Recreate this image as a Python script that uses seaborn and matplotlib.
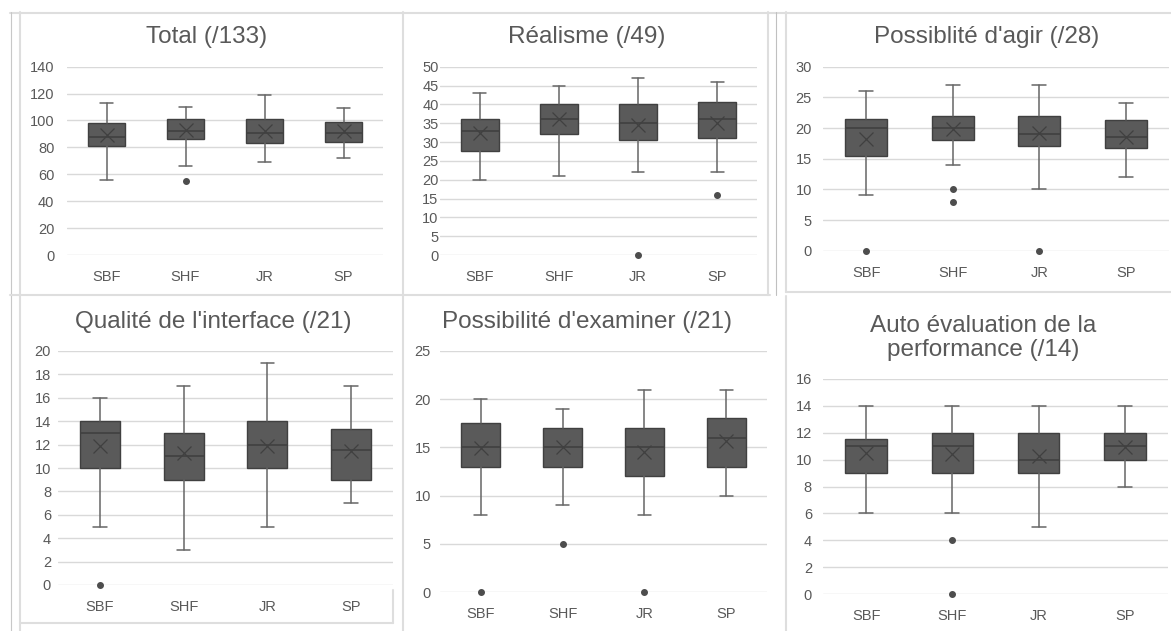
import numpy as np
import matplotlib
matplotlib.use("Agg")
import matplotlib.pyplot as plt
from matplotlib.lines import Line2D
import seaborn as sns

# groups shown on every panel
groups = ['SBF', 'SHF', 'JR', 'SP']

# box statistics, one list per panel (order: SBF, SHF, JR, SP)
total_lo = [56, 66, 69, 72]
total_q1 = [81, 86, 83, 84]
total_med = [88, 92, 91, 90.5]
total_q3 = [98, 101, 101, 99]
total_hi = [113, 110, 119, 109]
total_mean = [89.5, 93, 92, 92]
total_fliers = [[], [55], [], []]

real_lo = [20, 21, 22, 22]
real_q1 = [27.5, 32, 30.5, 31]
real_med = [33, 36, 35, 36]
real_q3 = [36, 40, 40, 40.5]
real_hi = [43, 45, 47, 46]
real_mean = [32.5, 36, 34.5, 35]
real_fliers = [[], [], [0], [16]]

agir_lo = [9, 14, 10, 12]
agir_q1 = [15.5, 18, 17, 16.75]
agir_med = [20, 20, 19, 18.5]
agir_q3 = [21.5, 22, 22, 21.3]
agir_hi = [26, 27, 27, 24]
agir_mean = [18.2, 19.8, 19.2, 18.6]
agir_fliers = [[0], [10, 8], [0], []]

interf_lo = [5, 3, 5, 7]
interf_q1 = [10, 9, 10, 9]
interf_med = [13, 11, 12, 11.5]
interf_q3 = [14, 13, 14, 13.3]
interf_hi = [16, 17, 19, 17]
interf_mean = [11.9, 11.3, 11.9, 11.45]
interf_fliers = [[0], [], [], []]

exam_lo = [8, 9, 8, 10]
exam_q1 = [13, 13, 12, 13]
exam_med = [15, 15, 15, 16]
exam_q3 = [17.5, 17, 17, 18]
exam_hi = [20, 19, 21, 21]
exam_mean = [14.9, 15, 14.55, 15.7]
exam_fliers = [[0], [5], [0], []]

auto_lo = [6, 6, 5, 8]
auto_q1 = [9, 9, 9, 10]
auto_med = [11, 11, 10, 11]
auto_q3 = [11.5, 12, 12, 12]
auto_hi = [14, 14, 14, 14]
auto_mean = [10.5, 10.45, 10.3, 10.95]
auto_fliers = [[], [4, 0], [], []]

titles = ['Total (/133)', 'Réalisme (/49)', "Possiblité d'agir (/28)",
          "Qualité de l'interface (/21)", "Possibilité d'examiner (/21)",
          'Auto évaluation de la\nperformance (/14)']
y_max = [140, 50, 30, 20, 25, 16]
y_step = [20, 5, 5, 2, 5, 2]

panels = [
    (total_lo, total_q1, total_med, total_q3, total_hi, total_mean, total_fliers),
    (real_lo, real_q1, real_med, real_q3, real_hi, real_mean, real_fliers),
    (agir_lo, agir_q1, agir_med, agir_q3, agir_hi, agir_mean, agir_fliers),
    (interf_lo, interf_q1, interf_med, interf_q3, interf_hi, interf_mean, interf_fliers),
    (exam_lo, exam_q1, exam_med, exam_q3, exam_hi, exam_mean, exam_fliers),
    (auto_lo, auto_q1, auto_med, auto_q3, auto_hi, auto_mean, auto_fliers),
]

W, H = 1171, 631

# plot areas in pixels: x0, x1, y_top, y_bottom
areas = [(67, 383, 66.7, 255), (440, 757, 66.7, 255), (823, 1169, 66.7, 250.7),
         (58, 393, 351, 585), (440, 767, 351, 592), (823, 1168, 379, 594)]
title_pos = [(207, 37), (587, 37), (987, 37), (213, 322), (587, 322), (983, 338)]
ylab_pad = [9, 1, 8, 5, 6.5, 8]

sns.set_theme(style="whitegrid")
plt.rcParams['font.family'] = ['Liberation Sans', 'DejaVu Sans']

text_col = '#595959'
box_col = '#5a5a5a'
edge_col = '#404040'
grid_col = '#d9d9d9'

fig = plt.figure(figsize=(W / 100, H / 100), dpi=100)
fig.patch.set_facecolor('white')

for i, (lo, q1, med, q3, hi, mean, fl) in enumerate(panels):
    x0, x1, yt, yb = areas[i]
    ax = fig.add_axes([x0 / W, 1 - yb / H, (x1 - x0) / W, (yb - yt) / H])
    ax.set_facecolor('white')
    stats = []
    for j, g in enumerate(groups):
        stats.append({'label': g, 'whislo': lo[j], 'q1': q1[j], 'med': med[j],
                      'q3': q3[j], 'whishi': hi[j], 'mean': mean[j], 'fliers': fl[j]})
    arts = ax.bxp(stats, positions=range(4), widths=0.48, capwidths=0.16,
                  patch_artist=True, showmeans=True, showfliers=True,
                  boxprops=dict(facecolor=box_col, edgecolor=edge_col, linewidth=1),
                  medianprops=dict(color=edge_col, linewidth=1.2),
                  whiskerprops=dict(color='#666666', linewidth=1.1),
                  capprops=dict(color='#666666', linewidth=1.1),
                  meanprops=dict(marker='x', markeredgecolor=edge_col, markersize=10,
                                 markeredgewidth=0.9),
                  flierprops=dict(marker='o', markerfacecolor='#4d4d4d',
                                  markeredgecolor='#4d4d4d', markersize=4))
    for key in arts:
        for a in arts[key]:
            a.set_clip_on(False)
            a.set_zorder(3)
    ax.set_xlim(-0.5, 3.5)
    ax.set_ylim(0, y_max[i])
    ax.set_yticks(np.arange(0, y_max[i] + 0.1, y_step[i]))
    ax.grid(axis='y', color=grid_col, linewidth=1)
    ax.grid(axis='x', visible=False)
    for s in ax.spines.values():
        s.set_visible(False)
    ax.tick_params(axis='y', length=0, pad=ylab_pad[i], labelsize=10.5, labelcolor=text_col)
    ax.tick_params(axis='x', length=0, pad=11, labelsize=10.5, labelcolor=text_col)
    tx, ty = title_pos[i]
    fig.text(tx / W, 1 - ty / H, titles[i], ha='center', va='center',
             fontsize=17.5, color=text_col, linespacing=1.12)

# chart area borders
def border(xs, ys, col='#dedede', lw=1.5):
    fig.add_artist(Line2D([x / W for x in xs], [1 - y / H for y in ys],
                          color=col, linewidth=lw, transform=fig.transFigure))

border([10, 1171], [12.5, 12.5])
border([10.5, 10.5], [12, 631], col='#c8c8c8', lw=0.8)
border([20, 20], [12, 631])
border([10, 770], [295, 295])
border([403, 403], [12, 631])
border([768, 768], [12, 295])
border([776, 776], [12, 295], col='#c0c0c0', lw=0.8)
border([786, 786], [12, 292])
border([786, 1171], [292, 292])
border([786, 786], [296, 631])
border([20, 393], [623, 623])
border([393, 393], [590, 623])

fig.savefig('out.png', dpi=100, facecolor='white')
